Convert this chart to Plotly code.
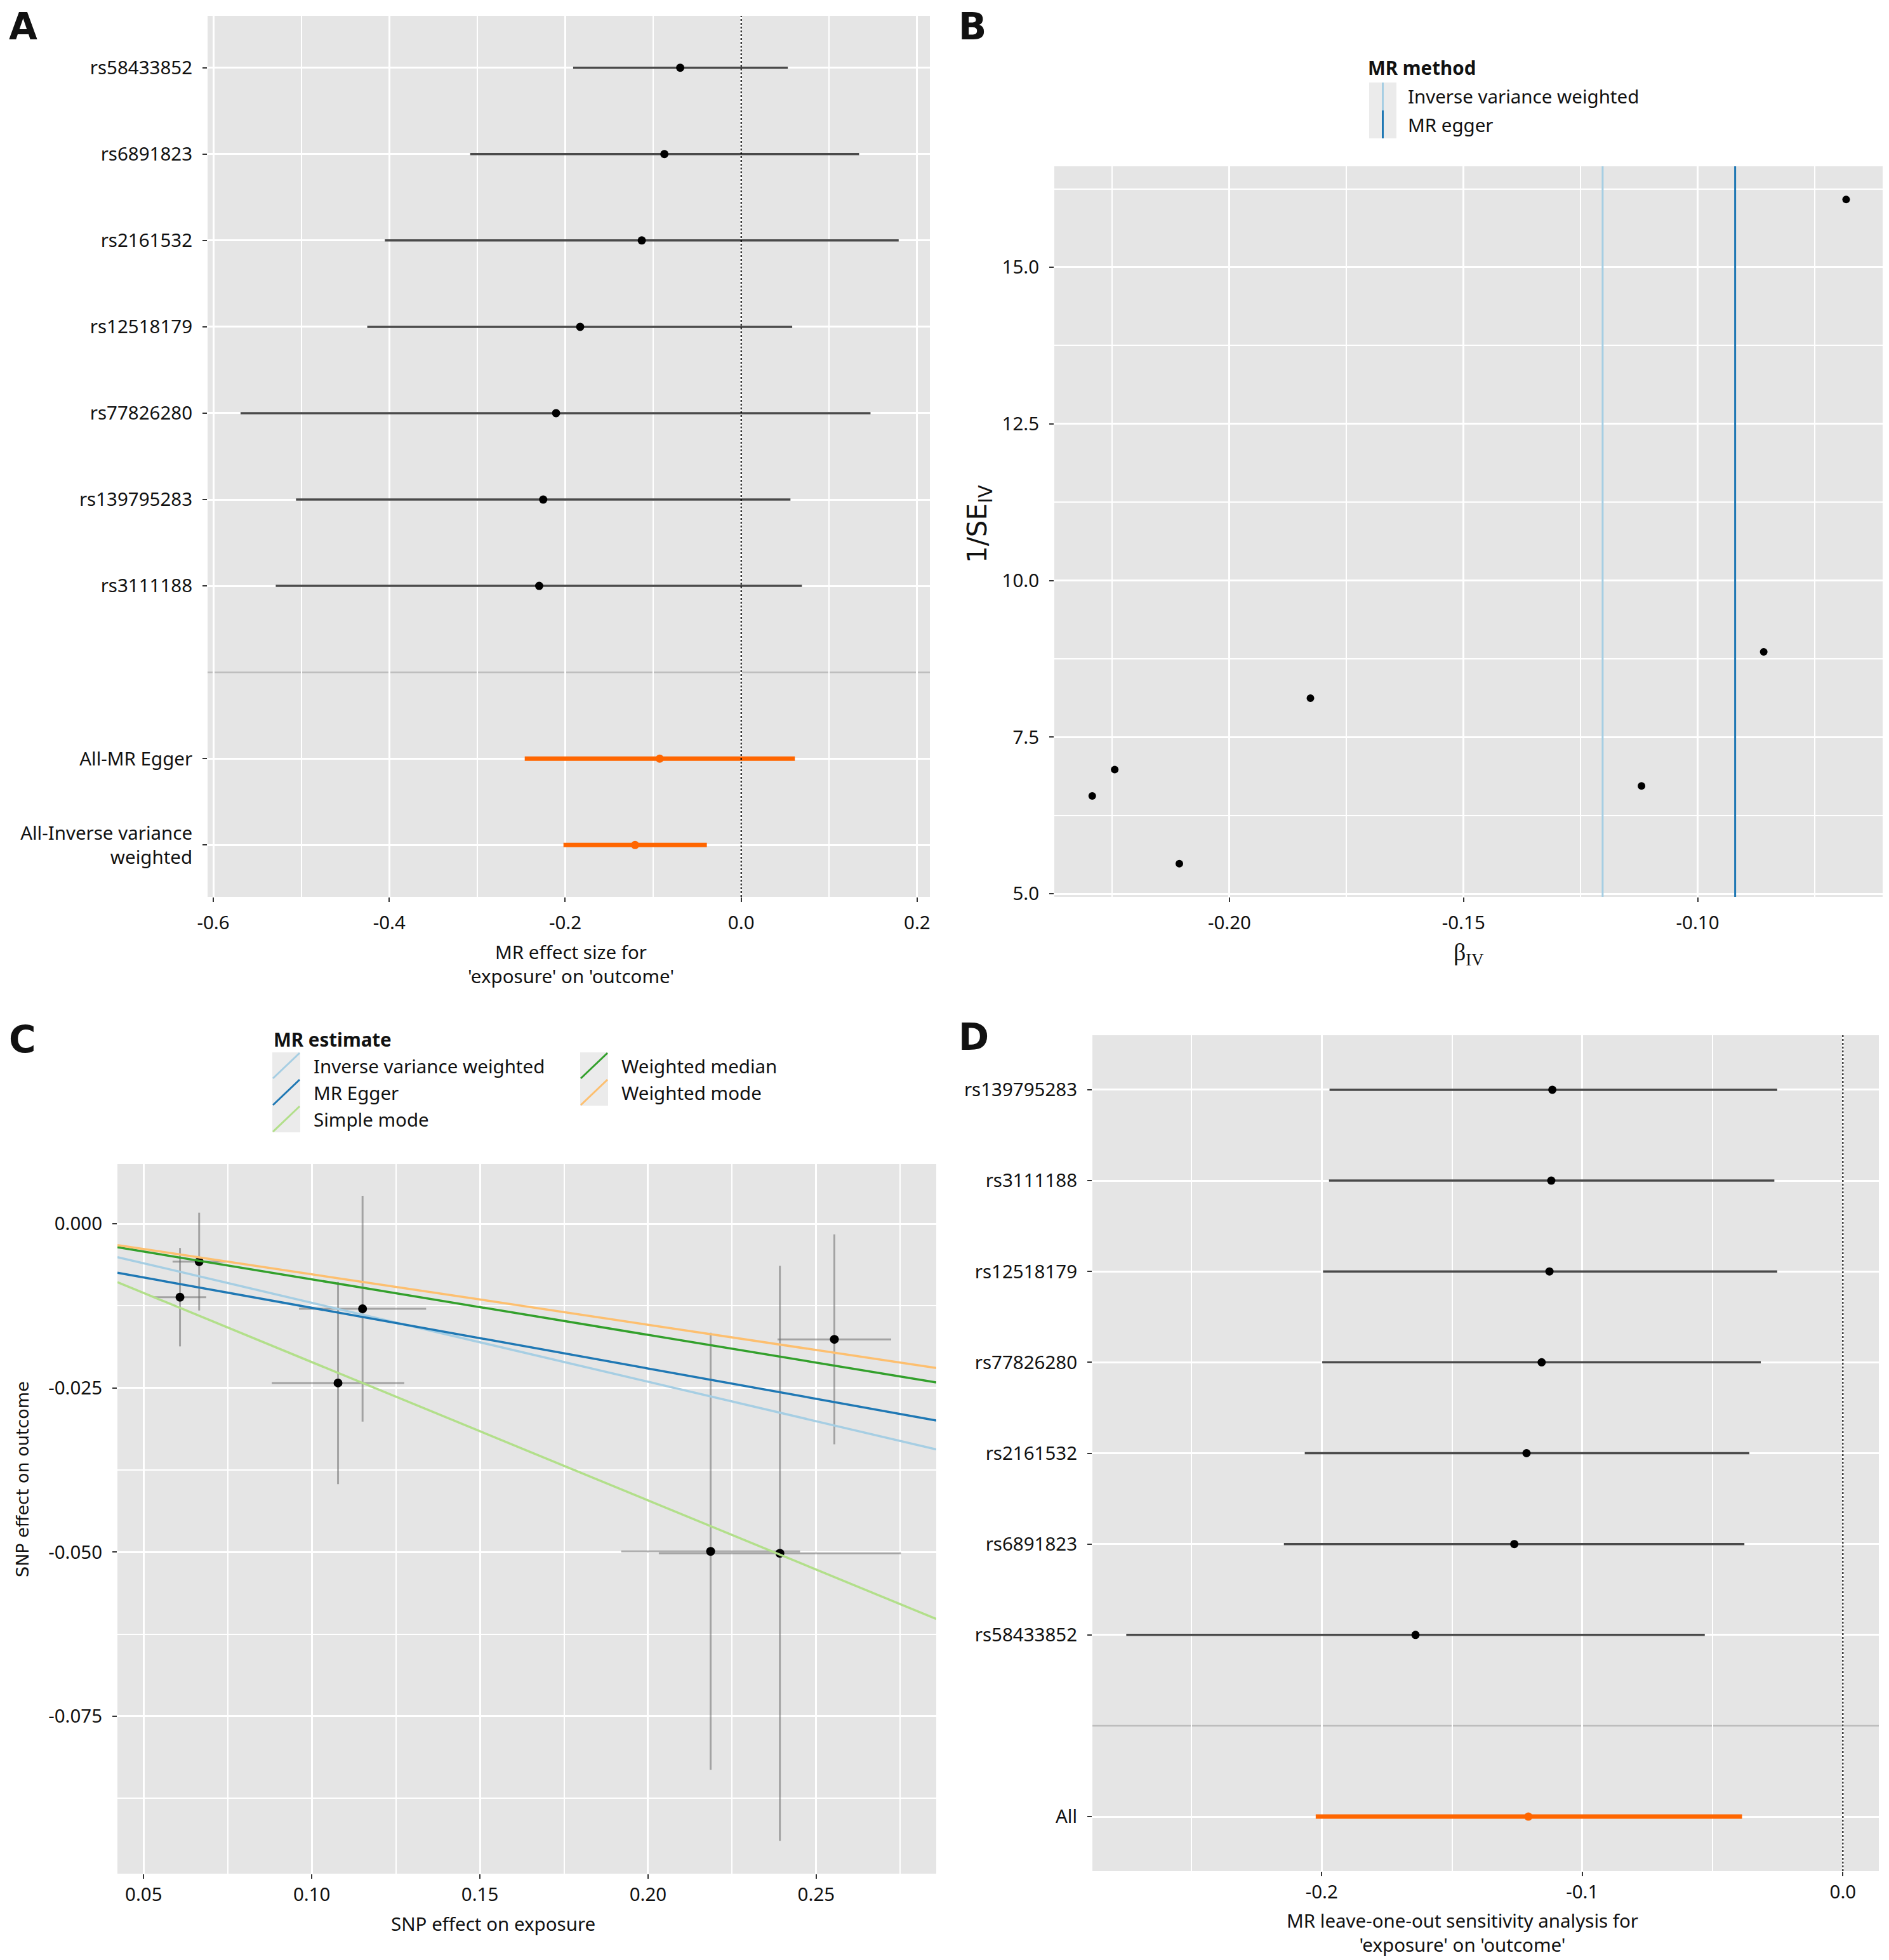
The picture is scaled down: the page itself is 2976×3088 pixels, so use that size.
import plotly.graph_objects as go

W, H = 2976, 3088
FONT = "Noto Sans"
FONT2 = "DejaVu Sans"
FS = 29.5
BG = "#E5E5E5"
TXT = "#111111"
ORANGE = "#FF6600"

# ---------------- Panel A : forest plot ----------------
a_snps = ["rs58433852", "rs6891823", "rs2161532", "rs12518179",
          "rs77826280", "rs139795283", "rs3111188"]
a_snp_b = [-0.0693, -0.0873, -0.1130, -0.1830, -0.2104, -0.2250, -0.2296]
a_snp_lo = [-0.191, -0.308, -0.405, -0.425, -0.569, -0.506, -0.529]
a_snp_hi = [0.053, 0.134, 0.179, 0.058, 0.147, 0.056, 0.069]
a_sum_labels = ["All-MR Egger", "All-Inverse variance<br>weighted"]
a_sum_b = [-0.0926, -0.1206]
a_sum_lo = [-0.246, -0.202]
a_sum_hi = [0.061, -0.039]
a_xticks = [-0.6, -0.4, -0.2, 0.0, 0.2]

# ---------------- Panel B : funnel plot ----------------
b_beta = [-0.0683, -0.0859, -0.1120, -0.1827, -0.2107, -0.2245, -0.2293]
b_inv_se = [16.08, 8.86, 6.72, 8.12, 5.48, 6.98, 6.56]
b_methods = ["Inverse variance weighted", "MR egger"]
b_method_b = [-0.1203, -0.0920]
b_method_colors = ["#A6CEE3", "#1F78B4"]
b_xticks = [-0.20, -0.15, -0.10]
b_yticks = [5.0, 7.5, 10.0, 12.5, 15.0]

# ---------------- Panel C : scatter plot ----------------
c_bx = [0.0608, 0.0665, 0.1078, 0.1151, 0.2186, 0.2392, 0.2554]
c_by = [-0.01118, -0.00576, -0.02425, -0.01294, -0.0499, -0.0502, -0.0176]
c_bx_err = [0.0078, 0.0079, 0.0197, 0.0189, 0.0266, 0.0360, 0.0169]
c_by_err = [0.0075, 0.00745, 0.0154, 0.0172, 0.0333, 0.0438, 0.0160]
c_methods = ["Inverse variance weighted", "MR Egger", "Simple mode",
             "Weighted median", "Weighted mode"]
c_slopes = [-0.1203, -0.0924, -0.2107, -0.0846, -0.0769]
c_intercepts = [0.0, -0.00356, 0.0, 0.0, 0.0]
c_colors = ["#A6CEE3", "#1F78B4", "#B2DF8A", "#33A02C", "#FDBF6F"]
c_xticks = [0.05, 0.10, 0.15, 0.20, 0.25]
c_yticks = [0.000, -0.025, -0.050, -0.075]

# ---------------- Panel D : leave-one-out ----------------
d_snps = ["rs139795283", "rs3111188", "rs12518179", "rs77826280",
          "rs2161532", "rs6891823", "rs58433852"]
d_b = [-0.1115, -0.1119, -0.1126, -0.1156, -0.1214, -0.1261, -0.1640]
d_lo = [-0.1970, -0.1972, -0.1995, -0.1998, -0.2065, -0.2145, -0.2750]
d_hi = [-0.0252, -0.0263, -0.0252, -0.0315, -0.0359, -0.0378, -0.0530]
d_sum_labels = ["All"]
d_sum_b = [-0.1207]
d_sum_lo = [-0.2023]
d_sum_hi = [-0.0387]
d_xticks = [-0.2, -0.1, 0.0]

# ---------------- layout geometry (pixels) ----------------
def fx(x):
    return x / W


def fy(y):
    return 1 - y / H


panels = {
    "A": dict(x0=327, x1=1465, y0=25, y1=1413),
    "B": dict(x0=1661, x1=2966, y0=262, y1=1413),
    "C": dict(x0=185, x1=1475, y0=1834, y1=2952),
    "D": dict(x0=1721, x1=2960, y0=1631, y1=2948),
}


def dom(p):
    g = panels[p]
    return [fx(g["x0"]), fx(g["x1"])], [fy(g["y1"]), fy(g["y0"])]


def mids(ticks, lo, hi):
    step = ticks[1] - ticks[0]
    cand = [t + step / 2 for t in ticks] + [ticks[0] - step / 2]
    return [c for c in cand if lo < c < hi]


def axis(domain, anchor, rng, tickvals, ticktext, minor_vals=None, **kw):
    d = dict(domain=domain, anchor=anchor, range=rng, tickmode="array",
             tickvals=tickvals, ticktext=ticktext, showgrid=True,
             gridcolor="white", gridwidth=3, zeroline=False, showline=False,
             automargin=False, ticklabelstandoff=10,
             ticks="outside", ticklen=7, tickwidth=2, tickcolor="#333333",
             tickfont=dict(family=FONT, size=FS, color=TXT))
    if minor_vals:
        d["minor"] = dict(tickmode="array", tickvals=minor_vals, showgrid=True,
                          gridcolor="white", gridwidth=1.5, ticks="")
    d.update(kw)
    return d


fig = go.Figure()

# ---------- Panel A traces ----------
n_a = len(a_snps)
a_snp_pos = list(range(n_a))
a_sep = n_a
a_sum_pos = [n_a + 1 + j for j in range(len(a_sum_labels))]
fig.add_trace(go.Scatter(
    x=a_snp_b, y=a_snp_pos, mode="markers", xaxis="x", yaxis="y",
    marker=dict(color="black", size=13),
    error_x=dict(type="data", symmetric=False,
                 array=[h - b for h, b in zip(a_snp_hi, a_snp_b)],
                 arrayminus=[b - l for b, l in zip(a_snp_b, a_snp_lo)],
                 width=0, thickness=3.5, color="#4a4a4a"),
    showlegend=False))
fig.add_trace(go.Scatter(
    x=a_sum_b, y=a_sum_pos, mode="markers", xaxis="x", yaxis="y",
    marker=dict(color=ORANGE, size=13),
    error_x=dict(type="data", symmetric=False,
                 array=[h - b for h, b in zip(a_sum_hi, a_sum_b)],
                 arrayminus=[b - l for b, l in zip(a_sum_b, a_sum_lo)],
                 width=0, thickness=7, color=ORANGE),
    showlegend=False))

# ---------- Panel B traces ----------
fig.add_trace(go.Scatter(
    x=b_beta, y=b_inv_se, mode="markers", xaxis="x2", yaxis="y2",
    marker=dict(color="black", size=12), showlegend=False))

# ---------- Panel C traces ----------
fig.add_trace(go.Scatter(
    x=c_bx, y=c_by, mode="markers", xaxis="x3", yaxis="y3",
    marker=dict(color="black", size=14),
    error_x=dict(type="data", array=c_bx_err, width=0, thickness=3,
                 color="rgba(110,110,110,0.55)"),
    error_y=dict(type="data", array=c_by_err, width=0, thickness=3,
                 color="rgba(110,110,110,0.55)"),
    showlegend=False))
c_xr = [0.0422, 0.2857]
c_yr = [-0.0990, 0.0091]
for name, s, a, col in zip(c_methods, c_slopes, c_intercepts, c_colors):
    fig.add_trace(go.Scatter(
        x=c_xr, y=[a + s * x for x in c_xr], mode="lines", xaxis="x3",
        yaxis="y3", line=dict(color=col, width=3.5), name=name,
        showlegend=False))

# ---------- Panel D traces ----------
n_d = len(d_snps)
d_snp_pos = list(range(n_d))
d_sep = n_d
d_sum_pos = [n_d + 1 + j for j in range(len(d_sum_labels))]
fig.add_trace(go.Scatter(
    x=d_b, y=d_snp_pos, mode="markers", xaxis="x4", yaxis="y4",
    marker=dict(color="black", size=13),
    error_x=dict(type="data", symmetric=False,
                 array=[h - b for h, b in zip(d_hi, d_b)],
                 arrayminus=[b - l for b, l in zip(d_b, d_lo)],
                 width=0, thickness=3.5, color="#4a4a4a"),
    showlegend=False))
fig.add_trace(go.Scatter(
    x=d_sum_b, y=d_sum_pos, mode="markers", xaxis="x4", yaxis="y4",
    marker=dict(color=ORANGE, size=13),
    error_x=dict(type="data", symmetric=False,
                 array=[h - b for h, b in zip(d_sum_hi, d_sum_b)],
                 arrayminus=[b - l for b, l in zip(d_sum_b, d_sum_lo)],
                 width=0, thickness=7, color=ORANGE),
    showlegend=False))

# ---------- axes ----------
a_xr = [-0.6065, 0.2145]
b_xr = [-0.2374, -0.0605]
b_yr = [4.95, 16.61]
d_xr = [-0.288, 0.0138]

ax_dom, ay_dom = dom("A")
bx_dom, by_dom = dom("B")
cx_dom, cy_dom = dom("C")
dx_dom, dy_dom = dom("D")

layout_axes = dict(
    xaxis=axis(ax_dom, "y", a_xr, a_xticks, [f"{v:.1f}" for v in a_xticks],
               mids(a_xticks, *a_xr), ticklabelstandoff=8),
    yaxis=axis(ay_dom, "x", [a_sum_pos[-1] + 0.6, -0.6],
               a_snp_pos + a_sum_pos, a_snps + a_sum_labels),
    xaxis2=axis(bx_dom, "y2", b_xr, b_xticks, [f"{v:.2f}" for v in b_xticks],
                mids(b_xticks, *b_xr), ticklabelstandoff=8),
    yaxis2=axis(by_dom, "x2", b_yr, b_yticks, [f"{v:.1f}" for v in b_yticks],
                mids(b_yticks, *b_yr)),
    xaxis3=axis(cx_dom, "y3", c_xr, c_xticks, [f"{v:.2f}" for v in c_xticks],
                mids(c_xticks, *c_xr), ticklabelstandoff=0),
    yaxis3=axis(cy_dom, "x3", c_yr, c_yticks, [f"{v:.3f}" for v in c_yticks],
                mids(sorted(c_yticks), *c_yr)),
    xaxis4=axis(dx_dom, "y4", d_xr, d_xticks, [f"{v:.1f}" for v in d_xticks],
                mids(d_xticks, *d_xr), ticklabelstandoff=0),
    yaxis4=axis(dy_dom, "x4", [d_sum_pos[-1] + 0.6, -0.6],
                d_snp_pos + d_sum_pos, d_snps + d_sum_labels),
)

shapes = []
# separators and zero lines for forest plots
for xa, ya, sep in (("x", "y", a_sep), ("x4", "y4", d_sep)):
    shapes.append(dict(type="line", xref=f"{xa} domain", yref=ya, x0=0, x1=1,
                       y0=sep, y1=sep, line=dict(color="#BDBDBD", width=2.5),
                       layer="below"))
    shapes.append(dict(type="line", xref=xa, yref=f"{ya} domain", x0=0, x1=0,
                       y0=0, y1=1, line=dict(color="black", width=2, dash="dot")))
# method lines in panel B
for est, col in zip(b_method_b, b_method_colors):
    shapes.append(dict(type="line", xref="x2", yref="y2 domain", x0=est, x1=est,
                       y0=0, y1=1, line=dict(color=col, width=3)))

annotations = []


def ann(text, x, y, size=FS, xanchor="center", yanchor="middle", angle=0,
        family=FONT, bold=False):
    if bold:
        text = f"<b>{text}</b>"
    annotations.append(dict(text=text, x=fx(x), y=fy(y), xref="paper",
                            yref="paper", showarrow=False, xanchor=xanchor,
                            yanchor=yanchor, textangle=angle,
                            font=dict(family=family, size=size, color=TXT)))


# panel letters
ann("A", 12, 42, size=58, xanchor="left", bold=True, family=FONT2)
ann("B", 1508, 42, size=58, xanchor="left", bold=True, family=FONT2)
ann("C", 12, 1638, size=58, xanchor="left", bold=True, family=FONT2)
ann("D", 1508, 1634, size=58, xanchor="left", bold=True, family=FONT2)

# axis titles
ann("MR effect size for<br>'exposure' on 'outcome'", 899, 1518)
ann("β<sub>IV</sub>", 2313, 1503, size=38, family="Liberation Serif")
ann("1/SE<sub>IV</sub>", 1542, 826, size=42, angle=-90, family=FONT2)
ann("SNP effect on exposure", 777, 3030)
ann("SNP effect on outcome", 35, 2331, size=27, angle=-90, family=FONT2)
ann("MR leave-one-out sensitivity analysis for<br>'exposure' on 'outcome'",
    2304, 3044)

# legend B (manual)
ann("MR method", 2153, 106, xanchor="left", bold=True)
b_key_top = 130
b_key_h = 44
for i, (name, col) in enumerate(zip(b_methods, b_method_colors)):
    y0 = b_key_top + i * b_key_h
    shapes.append(dict(type="rect", xref="paper", yref="paper",
                       x0=fx(2157), x1=fx(2200), y0=fy(y0 + b_key_h), y1=fy(y0),
                       fillcolor="#EBEBEB", line=dict(width=0)))
    shapes.append(dict(type="line", xref="paper", yref="paper",
                       x0=fx(2178.5), x1=fx(2178.5), y0=fy(y0 + b_key_h),
                       y1=fy(y0), line=dict(color=col, width=3)))
    ann(name, 2216, y0 + b_key_h / 2, xanchor="left")

# legend C (manual, two columns)
ann("MR estimate", 429, 1637, xanchor="left", bold=True)
c_key_top = 1658
c_key_h = 42
c_cols = [(429, 492), (914, 977)]
for i, (name, col) in enumerate(zip(c_methods, c_colors)):
    ci, ri = (0, i) if i < 3 else (1, i - 3)
    kx, tx = c_cols[ci]
    y0 = c_key_top + ri * c_key_h
    shapes.append(dict(type="rect", xref="paper", yref="paper",
                       x0=fx(kx), x1=fx(kx + 44), y0=fy(y0 + c_key_h), y1=fy(y0),
                       fillcolor="#EBEBEB", line=dict(width=0)))
    shapes.append(dict(type="line", xref="paper", yref="paper",
                       x0=fx(kx + 1), x1=fx(kx + 43), y0=fy(y0 + c_key_h - 1),
                       y1=fy(y0 + 1), line=dict(color=col, width=3)))
    ann(name, tx, y0 + c_key_h / 2, xanchor="left")

fig.update_layout(
    width=W, height=H, margin=dict(l=0, r=0, t=0, b=0, autoexpand=False),
    paper_bgcolor="white", plot_bgcolor=BG, showlegend=False,
    shapes=shapes, annotations=annotations,
    font=dict(family=FONT, size=FS, color=TXT),
    **layout_axes)

fig.write_html("out.html")
